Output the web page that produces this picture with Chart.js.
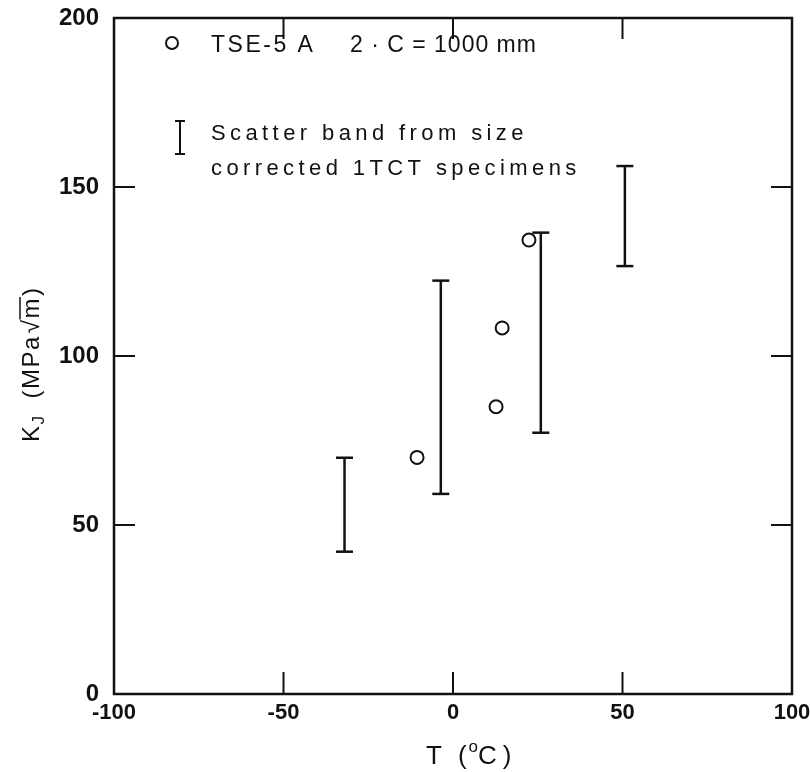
<!DOCTYPE html>
<html>
<head>
<meta charset="utf-8">
<script src="https://cdn.jsdelivr.net/npm/chart.js@4.4.1/dist/chart.umd.min.js"></script>
<style>
  html, body { margin: 0; padding: 0; background: #fff; }
  #wrap { width: 810px; height: 772px; }
</style>
</head>
<body>
<div id="wrap"><canvas id="chart" width="810" height="772"></canvas></div>
<script>
// TSE-5 A, 2·C = 1000 mm (circles)
const tseTemp = [-10.6, 12.7, 14.5, 22.4];
const tseKJ = [70.0, 85.0, 108.3, 134.3];

// scatter bands from size corrected 1TCT specimens
const bandTemp = [-32, -3.6, 25.9, 50.7];
const bandLow = [42.1, 59.2, 77.3, 126.6];
const bandHigh = [69.9, 122.3, 136.5, 156.2];

// ticks
const xTicks = [-100, -50, 0, 50, 100];
const yTicks = [0, 50, 100, 150, 200];
const xInnerTicks = [-50, 0, 50];
const yInnerTicks = [50, 100, 150];

const INK = '#111';
const FONT = '"Liberation Sans", Arial, sans-serif';

const datasets = [];

bandTemp.forEach((t, i) => {
  datasets.push({
    label: 'band' + i,
    data: [{ x: t, y: bandLow[i] }, { x: t, y: bandHigh[i] }],
    showLine: true,
    borderColor: INK,
    borderWidth: 2.5,
    pointStyle: 'line',
    pointRadius: 8.5,
    pointBorderWidth: 2.5,
    pointBorderColor: INK
  });
});

datasets.push({
  label: 'TSE-5 A',
  data: tseTemp.map((t, i) => ({ x: t, y: tseKJ[i] })),
  showLine: false,
  pointStyle: 'circle',
  pointRadius: 6.5,
  pointBorderWidth: 2,
  pointBorderColor: INK,
  pointBackgroundColor: '#fff'
});

function spacing(ctx, px) {
  if ('letterSpacing' in ctx) ctx.letterSpacing = px + 'px';
}

// frame, inward ticks, axis titles and the legend box
const decorations = {
  id: 'decorations',
  afterDatasetsDraw(chart) {
    const { ctx, chartArea: a, scales: { x, y } } = chart;
    ctx.save();
    ctx.strokeStyle = INK;
    ctx.lineWidth = 2.5;
    ctx.strokeRect(a.left, a.top, a.right - a.left, a.bottom - a.top);

    ctx.lineWidth = 2;
    ctx.beginPath();
    xInnerTicks.forEach(v => {
      const px = x.getPixelForValue(v);
      ctx.moveTo(px, a.bottom); ctx.lineTo(px, a.bottom - 22);
      ctx.moveTo(px, a.top); ctx.lineTo(px, a.top + 21);
    });
    yInnerTicks.forEach(v => {
      const py = y.getPixelForValue(v);
      ctx.moveTo(a.left, py); ctx.lineTo(a.left + 21, py);
      ctx.moveTo(a.right, py); ctx.lineTo(a.right - 21, py);
    });
    ctx.stroke();

    ctx.fillStyle = INK;
    ctx.textBaseline = 'alphabetic';

    // x title: T (°C)
    ctx.font = '26px ' + FONT;
    let cx = 426;
    const by = 764;
    ctx.fillText('T', cx, by); cx += ctx.measureText('T').width + 16;
    ctx.fillText('(', cx, by); cx += ctx.measureText('(').width + 2;
    ctx.font = '17px ' + FONT;
    ctx.fillText('o', cx, by - 12); cx += ctx.measureText('o').width;
    ctx.font = '26px ' + FONT;
    ctx.fillText('C', cx, by); cx += ctx.measureText('C').width + 6;
    ctx.fillText(')', cx, by);

    // y title: K_J (MPa√m)
    ctx.save();
    ctx.translate(39, 442);
    ctx.rotate(-Math.PI / 2);
    spacing(ctx, 1.5);
    let ty = 0;
    ctx.font = '24px ' + FONT;
    ctx.fillText('K', ty, 0); ty += ctx.measureText('K').width;
    ctx.font = '17px ' + FONT;
    ctx.fillText('J', ty, 5); ty += ctx.measureText('J').width + 16;
    ctx.font = '24px ' + FONT;
    const pre = '(MPa';
    ctx.fillText(pre, ty, 0); ty += ctx.measureText(pre).width + 2;
    ctx.fillText('\u221A', ty, 0); ty += ctx.measureText('\u221A').width;
    const mw = ctx.measureText('m').width;
    ctx.fillText('m', ty, 0);
    ctx.lineWidth = 1.5;
    ctx.beginPath(); ctx.moveTo(ty - 1, -19); ctx.lineTo(ty + mw, -19); ctx.stroke();
    ty += mw + 1;
    ctx.fillText(')', ty, 0);
    ctx.restore();

    // legend
    ctx.lineWidth = 2;
    ctx.beginPath(); ctx.arc(172, 43, 6, 0, Math.PI * 2); ctx.stroke();
    ctx.beginPath();
    ctx.moveTo(180, 121); ctx.lineTo(180, 154);
    ctx.moveTo(175, 121); ctx.lineTo(185, 121);
    ctx.moveTo(175, 154); ctx.lineTo(185, 154);
    ctx.stroke();

    ctx.font = '23px ' + FONT;
    spacing(ctx, 2.5);
    ctx.fillText('TSE-5 A', 211, 52);
    spacing(ctx, 1);
    ctx.fillText('2 \u00B7 C = 1000 mm', 350, 52);
    ctx.font = '22px ' + FONT;
    spacing(ctx, 4.4);
    ctx.fillText('Scatter band from size', 211, 140);
    ctx.fillText('corrected 1TCT specimens', 211, 175);
    spacing(ctx, 0);
    ctx.restore();
  }
};

new Chart(document.getElementById('chart'), {
  type: 'scatter',
  data: { datasets },
  options: {
    responsive: false,
    animation: false,
    layout: { padding: { top: 18, right: 18, left: 0, bottom: 0 } },
    plugins: {
      legend: { display: false },
      tooltip: { enabled: false }
    },
    scales: {
      x: {
        type: 'linear',
        min: -100,
        max: 100,
        afterBuildTicks: (s) => { s.ticks = xTicks.map(v => ({ value: v })); },
        afterFit: (s) => { s.height = 78; s.paddingLeft = 0; s.paddingRight = 0; },
        grid: { display: false, drawTicks: false },
        border: { display: false },
        ticks: { padding: 6, color: INK, font: { family: FONT, size: 22, weight: 'bold' } }
      },
      y: {
        type: 'linear',
        min: 0,
        max: 200,
        afterBuildTicks: (s) => { s.ticks = yTicks.map(v => ({ value: v })); },
        afterFit: (s) => { s.width = 114; s.paddingTop = 0; s.paddingBottom = 0; },
        grid: { display: false, drawTicks: false },
        border: { display: false },
        ticks: { padding: 15, color: INK, font: { family: FONT, size: 24, weight: 'bold' } }
      }
    }
  },
  plugins: [decorations]
});
</script>
</body>
</html>
